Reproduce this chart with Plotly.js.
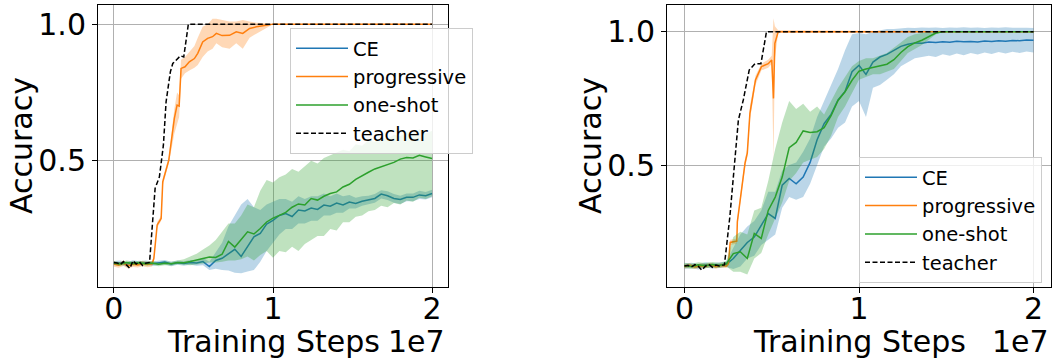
<!DOCTYPE html>
<html>
<head>
<meta charset="utf-8">
<script src="https://cdn.plot.ly/plotly-3.0.1.min.js"></script>
<style>
  html, body { margin: 0; padding: 0; background: #fff; }
  #chart { width: 1054px; height: 364px; }
</style>
</head>
<body>
<div id="chart"></div>
<script>
// Training steps are stored in units of 1e7 (the axis offset label shows "1e7").
const steps = [0, 0.04, 0.08, 0.12, 0.16, 0.20, 0.24, 0.28, 0.32, 0.36, 0.40, 0.44, 0.48, 0.52, 0.56, 0.60,
  0.64, 0.68, 0.72, 0.76, 0.80, 0.84, 0.88, 0.92, 0.96, 1.00, 1.04, 1.08, 1.12, 1.16, 1.20, 1.24, 1.28,
  1.32, 1.36, 1.40, 1.44, 1.48, 1.52, 1.56, 1.60, 1.64, 1.68, 1.72, 1.76, 1.80, 1.84, 1.88, 1.92, 1.96, 2.00];

const seriesNames = ['CE', 'progressive', 'one-shot', 'teacher'];
const tickSteps = [0, 1, 2];
const tickStepLabels = ['0', '1', '2'];
const tickAcc = [0.5, 1.0];
const tickAccLabels = ['0.5', '1.0'];

// ---- left panel ----
const ceMeanL = [0.125,0.127,0.121,0.128,0.124,0.127,0.123,0.126,0.129,0.122,0.127,0.124,0.128,0.126,0.131,0.113,
  0.135,0.143,0.158,0.176,0.150,0.187,0.222,0.234,0.268,0.282,0.300,0.307,0.296,0.320,0.316,0.327,0.322,
  0.338,0.334,0.345,0.338,0.349,0.344,0.352,0.356,0.362,0.378,0.372,0.362,0.358,0.366,0.366,0.375,0.372,0.380];
const ceLowL = [0.117,0.119,0.113,0.120,0.116,0.119,0.115,0.118,0.121,0.114,0.119,0.116,0.119,0.116,0.118,0.100,
  0.105,0.100,0.098,0.090,0.088,0.095,0.100,0.130,0.170,0.200,0.230,0.250,0.250,0.270,0.270,0.280,0.280,
  0.300,0.300,0.310,0.310,0.325,0.325,0.335,0.340,0.346,0.362,0.356,0.346,0.342,0.352,0.352,0.360,0.358,0.366];
const ceHighL = [0.133,0.135,0.129,0.136,0.132,0.135,0.131,0.134,0.137,0.130,0.135,0.132,0.137,0.136,0.145,0.130,
  0.165,0.200,0.260,0.300,0.340,0.360,0.330,0.320,0.340,0.350,0.360,0.360,0.350,0.370,0.360,0.370,0.370,
  0.380,0.370,0.380,0.370,0.375,0.365,0.370,0.372,0.378,0.392,0.388,0.378,0.372,0.380,0.380,0.390,0.386,0.394];

const oneMeanL = [0.126,0.122,0.128,0.124,0.127,0.123,0.126,0.121,0.125,0.123,0.128,0.127,0.131,0.136,0.142,0.148,
  0.146,0.158,0.205,0.184,0.212,0.240,0.232,0.252,0.276,0.290,0.300,0.311,0.330,0.342,0.338,0.362,0.356,
  0.370,0.380,0.386,0.404,0.414,0.432,0.446,0.458,0.470,0.478,0.488,0.494,0.506,0.512,0.510,0.520,0.514,0.508];
const oneLowL = [0.119,0.115,0.121,0.117,0.120,0.116,0.119,0.114,0.118,0.116,0.121,0.120,0.118,0.120,0.125,0.128,
  0.128,0.130,0.135,0.135,0.140,0.150,0.135,0.155,0.170,0.145,0.170,0.165,0.185,0.170,0.195,0.210,0.225,
  0.225,0.250,0.245,0.275,0.275,0.295,0.300,0.315,0.320,0.335,0.330,0.345,0.340,0.355,0.350,0.365,0.360,0.370];
const oneHighL = [0.133,0.129,0.135,0.131,0.134,0.130,0.133,0.128,0.132,0.130,0.135,0.140,0.150,0.160,0.175,0.190,
  0.210,0.240,0.270,0.270,0.300,0.340,0.330,0.390,0.430,0.420,0.440,0.450,0.470,0.460,0.480,0.500,0.490,
  0.510,0.520,0.530,0.540,0.535,0.560,0.555,0.575,0.570,0.585,0.580,0.595,0.590,0.605,0.600,0.615,0.600,0.610];

const progStepsL = [0, 0.03, 0.06, 0.09, 0.12, 0.15, 0.18, 0.21, 0.24, 0.251, 0.272, 0.297, 0.307, 0.345, 0.38,
  0.397, 0.41, 0.422, 0.447, 0.474, 0.506, 0.527, 0.558, 0.589, 0.62, 0.644, 0.68, 0.727, 0.769, 0.81, 0.853,
  0.895, 0.957, 1.0, 2.0];
const progMeanL = [0.122,0.118,0.125,0.116,0.121,0.119,0.124,0.120,0.123,0.142,0.265,0.289,0.423,0.502,0.655,
  0.704,0.700,0.838,0.844,0.862,0.874,0.893,0.935,0.948,0.954,0.966,0.958,0.959,0.972,0.966,0.984,
  0.990,0.996,1.0,1.0];
const progLowL = [0.112,0.108,0.115,0.106,0.111,0.109,0.114,0.110,0.113,0.135,0.255,0.280,0.410,0.490,0.600,
  0.640,0.660,0.800,0.820,0.830,0.840,0.850,0.880,0.900,0.910,0.930,0.915,0.910,0.930,0.910,0.950,
  0.965,0.985,1.0,1.0];
const progHighL = [0.132,0.128,0.135,0.126,0.131,0.129,0.134,0.130,0.133,0.150,0.275,0.300,0.435,0.515,0.690,
  0.750,0.740,0.870,0.880,0.900,0.920,0.950,0.990,1.000,1.020,1.020,1.015,1.010,1.010,1.015,1.010,
  1.005,1.003,1.0,1.0];

const teacherStepsL = [0, 0.02, 0.04, 0.06, 0.08, 0.10, 0.12, 0.14, 0.16, 0.18, 0.20, 0.224, 0.259, 0.286, 0.311,
  0.328, 0.355, 0.37, 0.418, 0.439, 0.468, 2.0];
const teacherL = [0.128,0.126,0.120,0.131,0.118,0.106,0.134,0.122,0.130,0.117,0.125,0.128,0.399,0.441,0.557,
  0.716,0.826,0.856,0.884,0.880,1.0,1.0];

// ---- right panel ----
const ceMeanR = [0.121,0.124,0.119,0.126,0.122,0.125,0.128,0.150,0.182,0.210,0.230,0.275,0.318,0.300,0.425,0.450,
  0.430,0.455,0.510,0.595,0.655,0.690,0.744,0.776,0.850,0.874,0.840,0.886,0.905,0.915,0.930,0.945,0.953,
  0.958,0.957,0.961,0.959,0.962,0.960,0.964,0.962,0.963,0.961,0.965,0.963,0.966,0.964,0.967,0.966,0.969,0.968];
const ceLowR = [0.111,0.114,0.109,0.116,0.112,0.115,0.118,0.110,0.120,0.150,0.160,0.200,0.220,0.240,0.340,0.380,
  0.370,0.380,0.430,0.500,0.570,0.600,0.640,0.660,0.720,0.740,0.680,0.790,0.800,0.820,0.840,0.870,0.885,
  0.900,0.905,0.910,0.905,0.915,0.910,0.918,0.912,0.920,0.914,0.922,0.916,0.924,0.918,0.925,0.920,0.926,0.922];
const ceHighR = [0.131,0.134,0.129,0.136,0.132,0.135,0.138,0.190,0.240,0.270,0.290,0.330,0.400,0.400,0.480,0.500,
  0.510,0.550,0.600,0.680,0.740,0.800,0.860,0.930,0.990,0.995,0.990,1.000,1.005,1.010,1.010,1.012,1.015,
  1.014,1.016,1.015,1.016,1.014,1.016,1.015,1.017,1.015,1.016,1.014,1.016,1.015,1.017,1.015,1.016,1.015,1.014];

const oneMeanR = [0.124,0.120,0.126,0.123,0.127,0.124,0.130,0.168,0.175,0.150,0.244,0.225,0.330,0.380,0.455,0.565,
  0.585,0.628,0.622,0.625,0.640,0.685,0.742,0.775,0.818,0.852,0.860,0.866,0.870,0.878,0.895,0.922,0.944,
  0.958,0.968,0.981,0.995,1.0,1.0,1.0,1.0,1.0,1.0,1.0,1.0,1.0,1.0,1.0,1.0,1.0,1.0];
const oneLowR = [0.114,0.110,0.116,0.113,0.117,0.114,0.120,0.100,0.100,0.090,0.150,0.170,0.240,0.300,0.360,0.440,
  0.470,0.510,0.520,0.530,0.560,0.610,0.680,0.720,0.770,0.820,0.830,0.840,0.840,0.850,0.860,0.890,0.920,
  0.935,0.950,0.970,0.990,1.0,1.0,1.0,1.0,1.0,1.0,1.0,1.0,1.0,1.0,1.0,1.0,1.0,1.0];
const oneHighR = [0.134,0.130,0.136,0.133,0.137,0.134,0.140,0.230,0.250,0.240,0.330,0.340,0.440,0.560,0.660,0.740,
  0.710,0.730,0.700,0.720,0.690,0.740,0.790,0.830,0.870,0.890,0.900,0.900,0.910,0.920,0.940,0.960,0.980,
  0.990,0.995,1.0,1.0,1.0,1.0,1.0,1.0,1.0,1.0,1.0,1.0,1.0,1.0,1.0,1.0,1.0,1.0];

const progStepsR = [0, 0.03, 0.06, 0.09, 0.12, 0.15, 0.18, 0.21, 0.24, 0.252, 0.262, 0.30, 0.303, 0.347, 0.36,
  0.375, 0.407, 0.441, 0.48, 0.50, 0.51, 0.518, 0.537, 2.0];
const progMeanR = [0.120,0.124,0.118,0.123,0.121,0.126,0.119,0.124,0.122,0.130,0.210,0.215,0.287,0.507,0.545,
  0.694,0.819,0.869,0.880,0.894,0.750,0.956,1.0,1.0];
const progLowR = [0.112,0.116,0.110,0.115,0.113,0.118,0.111,0.116,0.114,0.122,0.200,0.205,0.275,0.490,0.530,
  0.670,0.800,0.855,0.865,0.880,0.520,0.900,0.995,1.0];
const progHighR = [0.128,0.132,0.126,0.131,0.129,0.134,0.127,0.132,0.130,0.138,0.220,0.225,0.300,0.525,0.560,
  0.720,0.835,0.880,0.895,0.910,1.050,1.020,1.005,1.0];

const teacherStepsR = [0, 0.02, 0.04, 0.06, 0.08, 0.10, 0.12, 0.14, 0.16, 0.18, 0.20, 0.229, 0.26, 0.28, 0.309,
  0.337, 0.371, 0.404, 0.438, 0.47, 2.0];
const teacherR = [0.122,0.124,0.118,0.127,0.120,0.106,0.121,0.128,0.117,0.125,0.122,0.126,0.306,0.444,0.669,
  0.744,0.856,0.880,0.880,1.0,1.0];

// ---- styling ----
const W = 1054, H = 364;
const FONT = 'DejaVu Sans';
const colors = { CE: '#1f77b4', progressive: '#ff7f0e', 'one-shot': '#2ca02c' };
const bands = { CE: 'rgba(31,119,180,0.3)', progressive: 'rgba(255,127,14,0.3)', 'one-shot': 'rgba(44,160,44,0.3)' };

function band(x, lo, hi, name, xa, ya) {
  return [
    { x: x, y: lo, xaxis: xa, yaxis: ya, mode: 'lines', line: { width: 0 }, hoverinfo: 'skip', showlegend: false },
    { x: x, y: hi, xaxis: xa, yaxis: ya, mode: 'lines', line: { width: 0 }, fill: 'tonexty',
      fillcolor: bands[name], hoverinfo: 'skip', showlegend: false }
  ];
}
function meanLine(x, y, name, xa, ya, legend) {
  return { x: x, y: y, xaxis: xa, yaxis: ya, mode: 'lines', name: name, legend: legend,
           line: { color: colors[name], width: 1.5 } };
}
function teacherLine(x, y, xa, ya, legend) {
  return { x: x, y: y, xaxis: xa, yaxis: ya, mode: 'lines', name: seriesNames[3], legend: legend,
           line: { color: '#000000', width: 1.5, dash: '5px,2.5px' } };
}

function panel(xa, ya, legend, d) {
  return [].concat(
    band(steps, d.ceLow, d.ceHigh, 'CE', xa, ya),
    [meanLine(steps, d.ceMean, seriesNames[0], xa, ya, legend)],
    band(d.progX, d.progLow, d.progHigh, 'progressive', xa, ya),
    [meanLine(d.progX, d.progMean, seriesNames[1], xa, ya, legend)],
    band(steps, d.oneLow, d.oneHigh, 'one-shot', xa, ya),
    [meanLine(steps, d.oneMean, seriesNames[2], xa, ya, legend)],
    [teacherLine(d.teachX, d.teach, xa, ya, legend)]
  );
}

const traces = [].concat(
  panel('x', 'y', 'legend', {
    ceMean: ceMeanL, ceLow: ceLowL, ceHigh: ceHighL,
    progX: progStepsL, progMean: progMeanL, progLow: progLowL, progHigh: progHighL,
    oneMean: oneMeanL, oneLow: oneLowL, oneHigh: oneHighL,
    teachX: teacherStepsL, teach: teacherL
  }),
  panel('x2', 'y2', 'legend2', {
    ceMean: ceMeanR, ceLow: ceLowR, ceHigh: ceHighR,
    progX: progStepsR, progMean: progMeanR, progLow: progLowR, progHigh: progHighR,
    oneMean: oneMeanR, oneLow: oneLowR, oneHigh: oneHighR,
    teachX: teacherStepsR, teach: teacherR
  })
);

function px(x) { return x / W; }
function py(y) { return 1 - y / H; }

const xAxisBase = {
  range: [-0.1, 2.1], tickvals: tickSteps, ticktext: tickStepLabels,
  showgrid: true, gridcolor: '#b0b0b0', gridwidth: 1, zeroline: false,
  showline: true, mirror: true, linecolor: '#000000', linewidth: 1,
  ticks: 'outside', ticklen: 5, tickwidth: 1, tickcolor: '#000000', ticklabelstandoff: -10,
  tickfont: { family: FONT, size: 30, color: '#000000' }, fixedrange: true
};
const yAxisBase = {
  tickvals: tickAcc, ticktext: tickAccLabels,
  showgrid: true, gridcolor: '#b0b0b0', gridwidth: 1, zeroline: false,
  showline: true, mirror: true, linecolor: '#000000', linewidth: 1,
  ticks: 'outside', ticklen: 5, tickwidth: 1, tickcolor: '#000000',
  tickfont: { family: FONT, size: 30, color: '#000000' }, fixedrange: true
};

const legendBase = {
  bgcolor: 'rgba(255,255,255,0.8)', bordercolor: '#cccccc', borderwidth: 1,
  font: { family: FONT, size: 19.5, color: '#000000' }, traceorder: 'normal',
  xanchor: 'left', yanchor: 'top', itemwidth: 52, tracegroupgap: 0
};

const bigText = { family: FONT, size: 30, color: '#000000' };

const layout = {
  width: W, height: H,
  margin: { l: 0, r: 0, t: 0, b: 0 },
  paper_bgcolor: '#ffffff', plot_bgcolor: '#ffffff',
  font: { family: FONT, color: '#000000' },
  xaxis: Object.assign({}, xAxisBase, { domain: [px(98), px(448)], anchor: 'y' }),
  yaxis: Object.assign({}, yAxisBase, { domain: [py(287), py(5)], range: [0.038, 1.07], anchor: 'x' }),
  xaxis2: Object.assign({}, xAxisBase, { domain: [px(667), px(1051)], anchor: 'y2' }),
  yaxis2: Object.assign({}, yAxisBase, { domain: [py(287), py(5)], range: [0.043, 1.1], anchor: 'x2' }),
  legend: Object.assign({}, legendBase, { x: px(290), y: py(28) }),
  legend2: Object.assign({}, legendBase, { x: px(859), y: py(157) }),
  annotations: [
    { text: 'Accuracy', xref: 'paper', yref: 'paper', x: px(21), y: py(146), textangle: -90,
      showarrow: false, xanchor: 'center', yanchor: 'middle', font: bigText },
    { text: 'Accuracy', xref: 'paper', yref: 'paper', x: px(590), y: py(146), textangle: -90,
      showarrow: false, xanchor: 'center', yanchor: 'middle', font: bigText },
    { text: 'Training Steps', xref: 'paper', yref: 'paper', x: px(273), y: py(341),
      showarrow: false, xanchor: 'center', yanchor: 'middle', font: bigText },
    { text: 'Training Steps', xref: 'paper', yref: 'paper', x: px(859), y: py(341),
      showarrow: false, xanchor: 'center', yanchor: 'middle', font: bigText },
    { text: '1e7', xref: 'paper', yref: 'paper', x: px(447), y: py(341),
      showarrow: false, xanchor: 'right', yanchor: 'middle', font: bigText },
    { text: '1e7', xref: 'paper', yref: 'paper', x: px(1051), y: py(341),
      showarrow: false, xanchor: 'right', yanchor: 'middle', font: bigText }
  ]
};

Plotly.newPlot('chart', traces, layout, { displayModeBar: false, staticPlot: true });
</script>
</body>
</html>
